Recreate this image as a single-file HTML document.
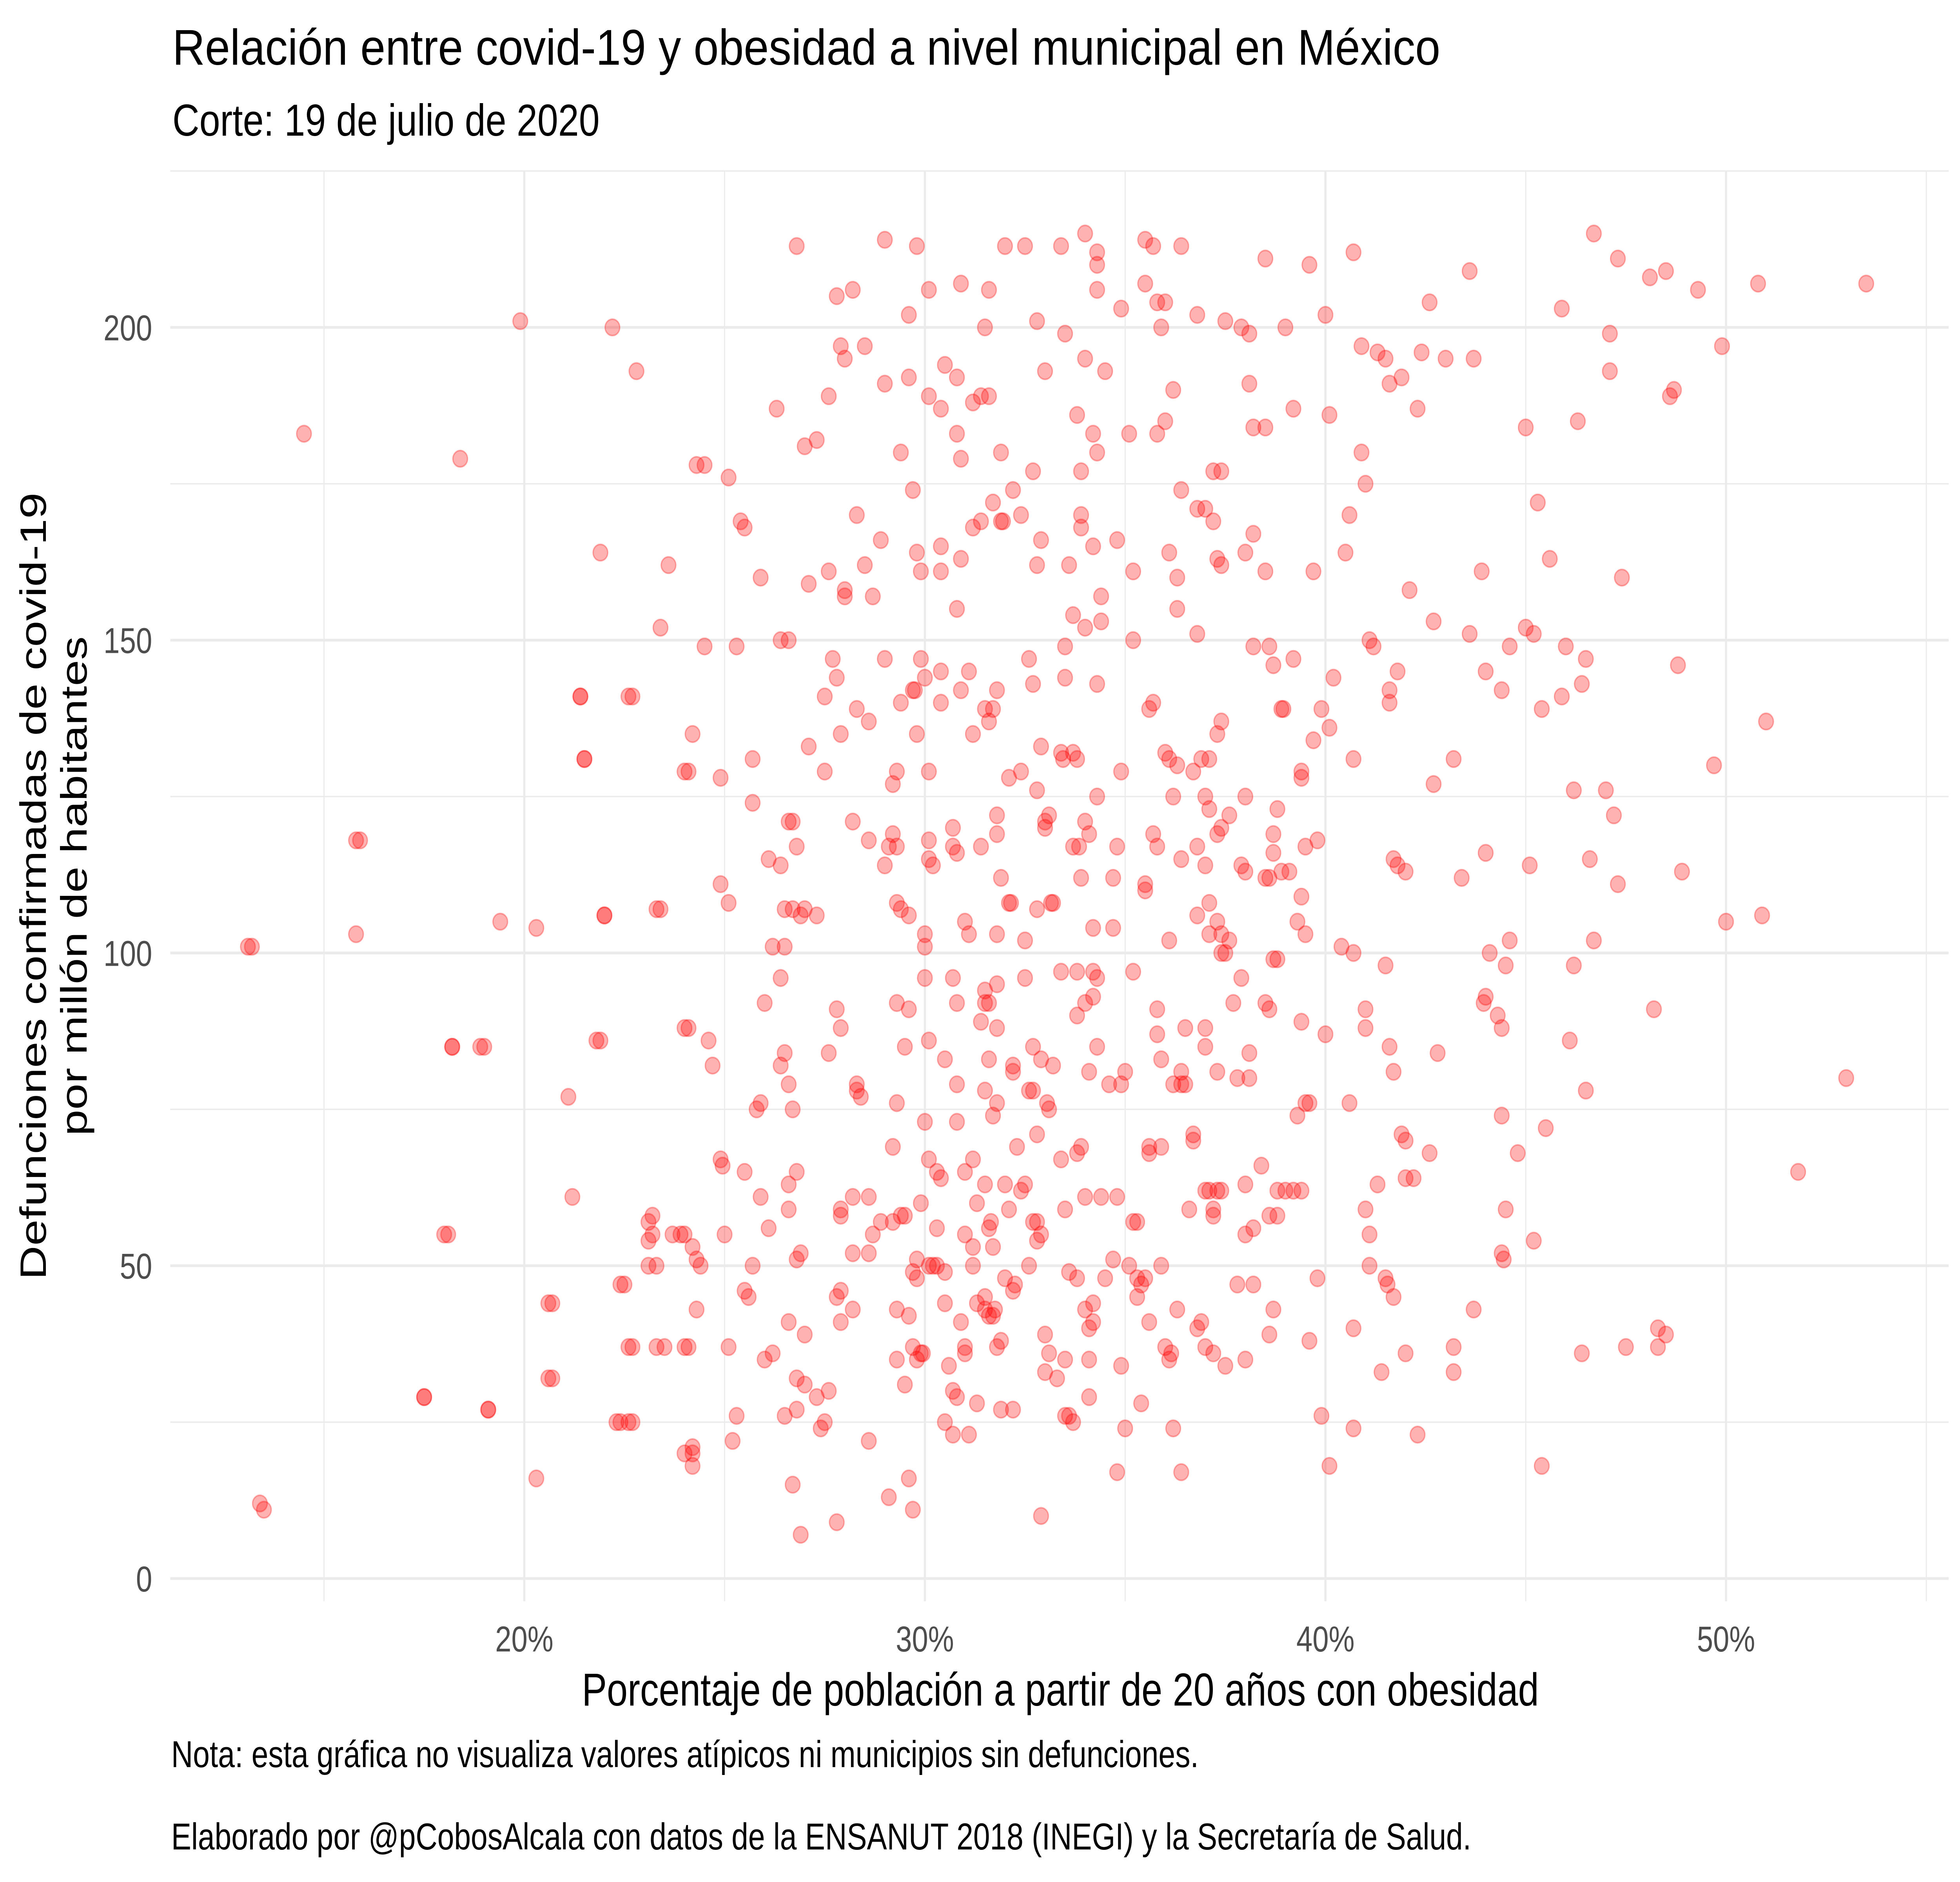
<!DOCTYPE html>
<html><head><meta charset="utf-8"><style>
html,body{margin:0;padding:0;background:#fff;width:100%;height:100%;overflow:hidden;}
svg{display:block;width:100vw;height:100vh;font-family:"Liberation Sans",Arial,sans-serif;}
</style></head><body>
<svg id="chart" viewBox="0 0 6400 4800" preserveAspectRatio="none" xmlns="http://www.w3.org/2000/svg">
<rect x="0" y="0" width="6400" height="4800" fill="#fff"/>
<g id="grid"></g>
<g id="points"></g>
<g id="axes"></g>
<text x="563" y="165" font-size="128" fill="#000" textLength="4140" lengthAdjust="spacingAndGlyphs">Relación entre covid-19 y obesidad a nivel municipal en México</text>
<text x="563" y="346" font-size="114" fill="#000" textLength="1395" lengthAdjust="spacingAndGlyphs">Corte: 19 de julio de 2020</text>
<text x="1900" y="4350" font-size="118" fill="#000" textLength="3125" lengthAdjust="spacingAndGlyphs">Porcentaje de población a partir de 20 años con obesidad</text>
<g transform="translate(150,2260) rotate(-90)">
<text x="0" y="0" font-size="120" text-anchor="middle" fill="#000">Defunciones confirmadas de covid-19</text>
<text x="0" y="133" font-size="120" text-anchor="middle" fill="#000">por millón de habitantes</text>
</g>
<text x="559" y="4507" font-size="96" fill="#000" textLength="3355" lengthAdjust="spacingAndGlyphs">Nota: esta gráfica no visualiza valores atípicos ni municipios sin defunciones.</text>
<text x="559" y="4717" font-size="96" fill="#000" textLength="4245" lengthAdjust="spacingAndGlyphs">Elaborado por @pCobosAlcala con datos de la ENSANUT 2018 (INEGI) y la Secretaría de Salud.</text>
</svg>
<script>
const xTicks = [20, 30, 40, 50];
const xTickLabels = ["20%", "30%", "40%", "50%"];
const xMinor = [15, 25, 35, 45, 55];
const yTicks = [0, 50, 100, 150, 200];
const yTickLabels = ["0", "50", "100", "150", "200"];
const yMinor = [25, 75, 125, 175, 225];
const municipios = [
[13.2,101],[13.5,11],[14.5,183],[15.8,103],[15.9,118],[17.5,29],[18,55],[18.2,85],[18.4,179],[19,85],[19.1,27],[19.4,105],[19.9,201],[20.3,16],[20.3,104],[20.7,44],[20.7,32],[21.1,77],[21.2,61],[21.4,141],[21.5,131],[21.9,164],[21.9,86],[22,106],[22.2,200],[22.4,25],[22.5,47],[22.7,37],[22.7,25],[22.7,141],[22.8,193],[23.2,55],[23.2,58],[23.3,50],[23.4,107],[23.4,152],[23.5,37],[23.6,162],[23.9,55],[24.1,37],[24.1,88],[24.1,129],[24.2,20],
[25.3,149],[25.5,168],[25.6,45],[26.4,114],[26.6,150],[27.1,133],[27.3,182],[27.8,205],
[26.8,213],[28.2,206],[29,214],[29.8,213],[30.1,206],[29.6,202],[30.9,207],[31.6,206],[32,213],[32.5,213],[32.8,201],[33.4,213],[33.5,199],[34,215],[34.3,212],[34.3,210],[34.3,206],[34.9,203],[35.5,214],[35.7,213],[35.5,207],[35.8,204],[36,204],[36.4,213],[35.9,200],[36.8,202],[37.5,201],[37.9,200],[38.1,199],[38.5,211],[39,200],[39.6,210],[40,202],[40.7,212],[40.9,197],[41.3,196],[41.5,195],[41.6,191],[41.9,192],[42.4,196],[42.6,204],[43,195],[43.7,195],[43.6,209],[45,184],[45.9,203],[46.3,185],[46.7,215],[47.1,199],[47.1,193],[47.3,211],[48.1,208],[48.5,209],[48.6,189],[49.3,206],[49.9,197],[50.8,207],[53.5,207],
[26.3,187],[27,181],[27.6,189],[27.9,197],[28,195],[28.5,197],[29,191],[29.4,180],[29.6,192],[29.7,174],[30.1,189],[30.4,187],[30.5,194],[30.8,192],[30.8,183],[30.9,179],[31.2,188],[31.4,189],[31.6,189],[31.5,200],[31.9,180],[32.2,174],[32.7,177],[33,193],[33.8,186],[33.9,177],[34,195],[34.2,183],[34.3,180],[34.5,193],[35.1,183],[35.8,183],[36,185],[36.2,190],[36.4,174],[37.2,177],[37.4,177],[38.1,191],[38.2,184],[38.5,184],[39.2,187],[40.1,186],[40.9,180],[41,175],[42.3,187],[43.9,161],[45.3,172],[48.7,190],
[24.3,178],[24.5,178],[25.1,176],[25.4,169],[25.9,160],[26.4,150],[27.6,161],[28.3,170],[28.5,162],[28.7,157],[28.9,166],[27.1,159],[28,158],[28,157],[29.8,164],[29.9,161],[30.4,161],[30.4,165],[30.9,163],[30.8,155],[31.2,168],[31.4,169],[31.7,172],[31.9,169],[31.95,169],[32.4,170],[32.9,166],[32.8,162],[33.6,162],[33.9,170],[33.9,168],[34.2,165],[34.4,157],[34.8,166],[35.2,161],[36.3,160],[36.1,164],[36.8,171],[37,171],[37.2,169],[37.3,163],[37.4,162],[38,164],[38.2,167],[38.5,161],[39.7,161],[40.5,164],[40.6,170],[42.1,158],[45.6,163],[47.4,160],
[21.4,141],[21.5,131],[22.6,141],[24.2,135],[24,129],[24.9,128],[24.5,149],[25.7,131],[27.5,141],[27.7,147],[27.8,144],[27.9,135],[27.5,129],[28.3,139],[28.6,137],[29,147],[29.2,127],[29.3,129],[29.4,140],[29.7,142],[29.75,142],[29.8,135],[29.9,147],[30,144],[30.1,129],[30.4,145],[30.4,140],[30.9,142],[31.1,145],[31.2,135],[31.5,139],[31.6,137],[31.7,139],[31.8,142],[32.1,128],[32.4,129],[32.6,147],[32.7,143],[32.9,133],[32.8,126],[33.1,122],[33.4,132],[33.45,131],[33.7,132],[33.8,131],[33.5,144],[33.5,149],[34.3,143],[34.3,125],[34.4,153],[34,152],[33.7,154],[34.9,129],[35.2,150],[35.6,139],[35.7,140],[36,132],[36.1,131],[36.2,125],[36.3,130],[36.3,155],[36.8,151],[36.7,129],[36.9,131],[37.1,131],[37,125],[37.1,123],[37.4,137],[37.3,135],[38,125],[38.2,149],[38.6,149],[38.7,146],[38.9,139],[38.95,139],[39.2,147],[39.4,128],[39.4,129],[39.7,134],[39.9,139],[40.2,144],[40.1,136],[40.7,131],[41.1,150],[41.2,149],[41.6,142],[41.6,140],[41.8,145],[42.7,153],[43.2,131],[42.7,127],[43.6,151],[44,145],[44.4,142],[44.6,149],[45,152],[45.2,151],[45.4,139],[45.9,141],[46,149],[46.2,126],[46.4,143],[46.5,147],[47,126],[47.2,122],[48.8,146],[49.7,130],[51,137],
[15.8,118],[13.1,101],[22,106],[23.3,107],[24.9,111],[25.1,108],[25.7,124],[26.1,115],[26.6,121],[26.7,121],[26.8,117],[26.5,107],[26.7,107],[26.9,106],[27,107],[27.3,106],[28.2,121],[28.6,118],[29,114],[29.2,119],[29.3,117],[29.1,117],[29.4,107],[29.6,106],[29.3,108],[30,103],[30,101],[30.1,118],[30.1,115],[30.2,114],[30.7,120],[30.7,117],[30.8,116],[31,105],[31.1,103],[31.4,117],[31.8,122],[31.8,119],[31.9,112],[31.8,103],[32.1,108],[32.15,108],[32.5,102],[32.8,107],[33,120],[33,121],[33.2,108],[33.15,108],[33.7,117],[33.9,112],[33.85,117],[34,121],[34.1,119],[34.2,104],[34.7,104],[34.7,112],[34.8,117],[35.5,111],[35.5,110],[35.7,119],[35.8,117],[36.1,102],[36.4,115],[36.8,106],[36.8,117],[37,114],[37.1,108],[37.1,103],[37.3,105],[37.4,103],[37.3,119],[37.4,120],[37.5,100],[37.6,122],[37.9,114],[38,113],[38.6,112],[38.5,112],[38.7,116],[38.7,119],[38.8,123],[38.8,99],[38.9,113],[39.1,113],[39.3,105],[39.4,109],[39.5,103],[39.5,117],[39.8,118],[40.4,101],[40.7,100],[41.5,98],[41.7,115],[41.8,114],[42,113],[43.4,112],[44,116],[44.5,98],[44.1,100],[44.6,102],[45.1,114],[46.2,98],[46.7,102],[46.6,115],[47.3,111],[48.9,113],[50,105],[50.9,106],
[18.2,85],[18.9,85],[21.8,86],[18.1,55],[24,88],[24.6,86],[24.7,82],[24.9,67],[24.95,66],[25.5,65],[24,55],[24.2,53],[24.3,51],[24.4,50],[23.7,55],[23.1,54],[23.1,57],[23.1,50],[23.3,37],[25,55],[25.9,61],[26.1,56],[26,92],[26.4,96],[26.5,101],[26.2,101],[25.9,76],[25.8,75],[26.4,82],[26.5,84],[26.6,79],[26.7,75],[26.6,63],[26.8,65],[26.6,59],[26.8,51],[26.9,52],[27.6,84],[27.8,91],[27.9,88],[28.3,79],[28.4,77],[28.3,78],[27.9,58],[27.9,59],[28.2,61],[28.6,61],[28.7,55],[28.9,57],[29.2,57],[29.3,92],[29.6,91],[29.5,85],[29.3,76],[29.2,69],[29.4,58],[29.5,58],[29.7,49],[29.8,51],[30,96],[30.1,86],[30,73],[30.1,67],[30.3,65],[30.4,64],[29.9,60],[30.3,56],[30.1,50],[30.2,50],[30.5,49],[30.7,96],[30.8,92],[30.5,83],[30.8,79],[30.8,73],[31,65],[31.2,67],[31.3,60],[31,55],[31.2,53],[31.2,50],[31.5,94],[31.5,92],[31.6,92],[31.8,95],[31.4,89],[31.6,83],[31.5,78],[31.8,76],[31.8,88],[31.7,74],[31.5,63],[31.6,56],[31.65,57],[31.7,53],[32,63],[32.1,59],[32.2,82],[32.2,81],[32.3,69],[32.4,62],[32.5,63],[32.5,96],[32.6,78],[32.7,85],[32.7,78],[32.8,71],[32.9,83],[32.7,57],[32.8,57],[32.9,55],[32.8,54],[33.1,75],[33.05,76],[33.2,82],[33.4,97],[33.5,59],[33.4,67],[33.8,90],[33.8,97],[33.8,68],[33.9,69],[34,92],[34.1,81],[34,61],[34.2,93],[34.3,96],[34.2,97],[34.3,85],[34.4,61],[34.6,79],[34.8,61],[34.9,79],[35,81],[35.2,97],[35.2,57],[35.3,57],[35.6,69],[35.8,91],[35.8,87],[35.6,68],[35.9,69],[35.9,83],[36.4,81],[36.4,79],[36.2,79],[36.5,79],[36.5,88],[36.6,59],[36.7,71],[36.7,70],[37,62],[37.1,62],[37,85],[37.2,59],[37.2,58],[37.3,81],[37.3,62],[37.4,62],[37,88],[37.4,100],[37.6,102],[37.7,92],[37.8,80],[37.9,96],[38.1,80],[38.1,84],[38,55],[38.2,56],[38,63],[38.4,66],[38.5,92],[38.6,91],[38.7,99],[38.6,58],[38.8,58],[38.8,62],[39,62],[39.2,62],[39.4,62],[39.5,76],[39.3,74],[39.4,89],[39.6,76],[40,87],[40.6,76],[41,91],[41,88],[41,59],[41.3,63],[41.6,85],[41.7,81],[41.9,71],[42,70],[42,64],[42.2,64],[42.6,68],[42.8,84],[44,93],[43.95,92],[44.3,90],[44.4,88],[44.4,74],[44.8,68],[44.5,59],[45.5,72],[46.1,86],[46.5,78],[48.2,91],[51.8,65],[53,80],
[13.4,12],[17.5,29],[19.1,27],[20.6,44],[20.6,32],[22.3,25],[22.6,25],[22.6,37],[22.4,47],[24,37],[24,20],[24.2,21],[24.2,18],[24.3,43],[25.1,37],[25.2,22],[25.3,26],[25.5,46],[25.7,50],[26,35],[26.2,36],[26.5,26],[26.6,41],[26.7,15],[26.8,27],[26.8,32],[27,31],[26.9,7],[27,39],[27.3,29],[27.4,24],[27.5,25],[27.6,30],[27.8,45],[27.9,46],[27.8,9],[27.9,41],[28.2,43],[28.2,52],[28.6,52],[28.6,22],[29.1,13],[29.3,35],[29.3,43],[29.5,31],[29.6,16],[29.7,11],[29.6,42],[29.7,37],[29.8,35],[29.9,36],[29.95,36],[29.8,48],[30.3,50],[30.5,44],[30.5,25],[30.6,34],[30.7,30],[30.7,23],[30.8,29],[30.9,41],[31,36],[31,37],[31.1,23],[31.3,44],[31.3,28],[31.5,45],[31.5,43],[31.6,42],[31.7,42],[31.75,43],[31.8,37],[31.9,38],[31.9,27],[32,48],[32.2,27],[32.2,46],[32.25,47],[32.6,50],[32.9,10],[33,39],[33,33],[33.1,36],[33.3,32],[33.5,35],[33.5,26],[33.6,49],[33.6,26],[33.7,25],[33.8,48],[34,43],[34.1,40],[34.2,44],[34.2,41],[34.1,29],[34.1,35],[34.5,48],[34.7,51],[34.8,17],[34.9,34],[35,24],[35.1,50],[35.3,48],[35.3,45],[35.4,47],[35.4,28],[35.5,48],[35.6,41],[35.9,50],[36,37],[36.1,35],[36.15,36],[36.2,24],[36.4,17],[36.3,43],[36.8,40],[36.9,41],[37,37],[37.2,36],[37.5,34],[37.8,47],[38,35],[38.2,47],[38.6,39],[38.7,43],[39.6,38],[39.8,48],[39.9,26],[40.1,18],[40.7,40],[40.7,24],[41.1,55],[41.1,50],[41.4,33],[41.5,48],[41.55,47],[41.7,45],[42,36],[42.3,23],[43.2,37],[43.2,33],[43.7,43],[44.4,52],[44.45,51],[45.2,54],[45.4,18],[46.4,36],[47.5,37],[48.3,37],[48.3,40],[48.5,39]
];
const NS = "http://www.w3.org/2000/svg";
const X0 = 1712, XPER = 130.8, Y0 = 4026, YPER = 15.955;
const PL = 556, PR = 6363, PT = 436, PB = 4084;
function xScale(v){ return X0 + (v - 20) * XPER; }
function yScale(v){ return Y0 - v * YPER; }
function mk(tag, attrs, parent){ const e = document.createElementNS(NS, tag); for (const k in attrs) e.setAttribute(k, attrs[k]); parent.appendChild(e); return e; }
const grid = document.getElementById('grid');
const axes = document.getElementById('axes');
const pts = document.getElementById('points');
xMinor.forEach(v => {
  const l = mk('line', {x1: xScale(v), x2: xScale(v), y1: PT, y2: PB, stroke: '#ebebeb', 'stroke-width': 3.5}, grid);
  
  
});
yMinor.forEach(v => {
  const l = mk('line', {x1: PL, x2: PR, y1: yScale(v), y2: yScale(v), stroke: '#ebebeb', 'stroke-width': 3.5}, grid);
  
  
});
xTicks.forEach((v, i) => {
  const l = mk('line', {x1: xScale(v), x2: xScale(v), y1: PT, y2: PB, stroke: '#ebebeb', 'stroke-width': 7}, grid);
  
  
  const t = mk('text', {x: xScale(v) - 95, y: 4212, 'font-size': 92, fill: '#4d4d4d', textLength: 190, lengthAdjust: 'spacingAndGlyphs'}, axes);
  t.textContent = xTickLabels[i];
  
  
});
yTicks.forEach((v, i) => {
  const l = mk('line', {x1: PL, x2: PR, y1: yScale(v), y2: yScale(v), stroke: '#ebebeb', 'stroke-width': 7}, grid);
  
  
  const w = 53 * yTickLabels[i].length;
  const t = mk('text', {x: 497 - w, y: yScale(v) + 33, 'font-size': 92, fill: '#4d4d4d', textLength: w, lengthAdjust: 'spacingAndGlyphs'}, axes);
  t.textContent = yTickLabels[i];
  
  
});
municipios.forEach(p => {
  const c = mk('ellipse', {cx: xScale(p[0]), cy: yScale(p[1]), rx: 24, ry: 21, fill: 'rgba(255,0,0,0.3)', stroke: 'rgba(255,0,0,0.3)', 'stroke-width': 4}, pts);
  
  
});
</script>
</body></html>
